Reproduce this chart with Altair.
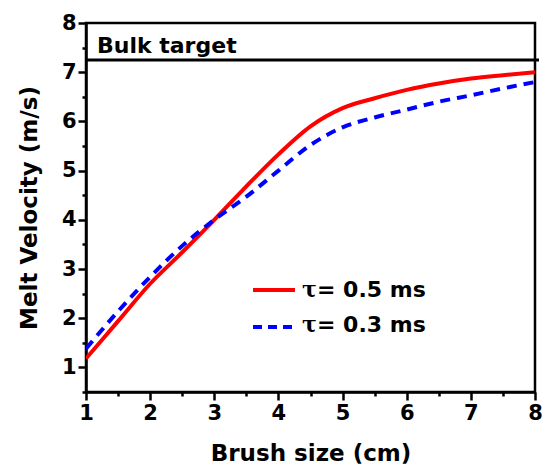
import altair as alt
import pandas as pd

# Data
x_vals = [1, 1.5, 2, 2.5, 3, 3.5, 4, 4.5, 5, 5.5, 6, 6.5, 7, 7.5, 8]
red_vals = [1.18, 1.94, 2.70, 3.34, 4.00, 4.68, 5.33, 5.90, 6.27, 6.47, 6.64, 6.77, 6.87, 6.94, 7.00]
blue_vals = [1.38, 2.14, 2.84, 3.47, 4.00, 4.47, 5.00, 5.52, 5.88, 6.08, 6.24, 6.40, 6.53, 6.67, 6.80]
bulk_target = 7.25
series_labels = ["= 0.5 ms", "= 0.3 ms"]
x_ticks = [1, 1.5, 2, 2.5, 3, 3.5, 4, 4.5, 5, 5.5, 6, 6.5, 7, 7.5, 8]
y_ticks = [0.5, 1, 1.5, 2, 2.5, 3, 3.5, 4, 4.5, 5, 5.5, 6, 6.5, 7, 7.5, 8]

FONT = "DejaVu Sans"
W, H = 449, 369

df = pd.DataFrame({"x": x_vals, "red": red_vals, "blue": blue_vals})

tick_size = {"condition": {"test": "datum.value % 1 === 0", "value": 8}, "value": 4}
label_expr = "datum.value % 1 === 0 ? '' + datum.value : ''"

x_axis = alt.Axis(
    values=x_ticks, labelExpr=label_expr, tickSize=tick_size, grid=False,
    domainColor="black", domainWidth=2.5, tickColor="black", tickWidth=2.5,
    labelFont=FONT, labelFontSize=21, labelFontWeight="bold", labelColor="black",
    labelPadding=2, labelFlush=False, labelOverlap=False,
    title="Brush size (cm)", titleFont=FONT, titleFontSize=23, titleFontWeight="bold",
    titleColor="black", titleBaseline="alphabetic", titleY=68, titleX=W / 2,
)
y_axis = alt.Axis(
    values=y_ticks, labelExpr=label_expr, tickSize=tick_size, grid=False,
    domainColor="black", domainWidth=2.5, tickColor="black", tickWidth=2.5,
    labelFont=FONT, labelFontSize=21, labelFontWeight="bold", labelColor="black",
    labelPadding=2, labelOverlap=False, labelFlush=False,
    title="Melt Velocity (m/s)", titleFont=FONT, titleFontSize=23, titleFontWeight="bold",
    titleColor="black", titleBaseline="alphabetic", titleAlign="center",
    titleAngle=270, titleX=-50, titleY=H / 2,
)

xs = alt.Scale(domain=[1, 8], nice=False, zero=False)
ys = alt.Scale(domain=[0.5, 8], nice=False, zero=False)

base = alt.Chart(df)

red_line = base.mark_line(color="#ff0000", strokeWidth=4, interpolate="monotone", clip=True).encode(
    x=alt.X("x:Q", scale=xs, axis=x_axis),
    y=alt.Y("red:Q", scale=ys, axis=y_axis),
)
blue_line = base.mark_line(color="#0000ff", strokeWidth=4, strokeDash=[10, 7],
                           interpolate="monotone", clip=True).encode(
    x=alt.X("x:Q", scale=xs, axis=x_axis),
    y=alt.Y("blue:Q", scale=ys, axis=y_axis),
)

target = alt.Chart(pd.DataFrame({"y": [bulk_target]})).mark_rule(color="black", strokeWidth=3).encode(
    y=alt.Y("y:Q", scale=ys, axis=y_axis), x=alt.value(0), x2=alt.value(W + 4)
)
target_text = alt.Chart(pd.DataFrame({"t": ["Bulk target"]})).mark_text(
    font=FONT, fontSize=22, fontWeight="bold", color="black", align="left", baseline="alphabetic"
).encode(x=alt.value(11), y=alt.value(30), text="t:N")

# Legend
leg_red = base.mark_rule(color="#ff0000", strokeWidth=4).encode(
    x=alt.value(167), x2=alt.value(209), y=alt.value(267))
leg_blue = base.mark_rule(color="#0000ff", strokeWidth=4, strokeDash=[9, 6]).encode(
    x=alt.value(167), x2=alt.value(209), y=alt.value(304))
tau_red = alt.Chart(pd.DataFrame({"t": ["τ"]})).mark_text(
    font="DejaVu Serif", fontSize=22, fontWeight="bold", color="black", align="left", baseline="alphabetic"
).encode(x=alt.value(216), y=alt.value(274), text="t:N")
tau_blue = alt.Chart(pd.DataFrame({"t": ["τ"]})).mark_text(
    font="DejaVu Serif", fontSize=22, fontWeight="bold", color="black", align="left", baseline="alphabetic"
).encode(x=alt.value(216), y=alt.value(309), text="t:N")
lab_red = alt.Chart(pd.DataFrame({"t": [series_labels[0]]})).mark_text(
    font=FONT, fontSize=22, fontWeight="bold", color="black", align="left", baseline="alphabetic"
).encode(x=alt.value(231), y=alt.value(274), text="t:N")
lab_blue = alt.Chart(pd.DataFrame({"t": [series_labels[1]]})).mark_text(
    font=FONT, fontSize=22, fontWeight="bold", color="black", align="left", baseline="alphabetic"
).encode(x=alt.value(231), y=alt.value(309), text="t:N")

chart = alt.layer(
    red_line, blue_line, target, target_text, leg_red, leg_blue, tau_red, tau_blue, lab_red, lab_blue
).properties(
    width=W, height=H,
    autosize=alt.AutoSizeParams(type="none"),
    padding={"left": 86, "top": 23, "right": 14, "bottom": 76},
    background="white",
).configure_view(stroke="black", strokeWidth=2.5)

chart.save("out.html", embed_options={"renderer": "svg", "actions": False})
